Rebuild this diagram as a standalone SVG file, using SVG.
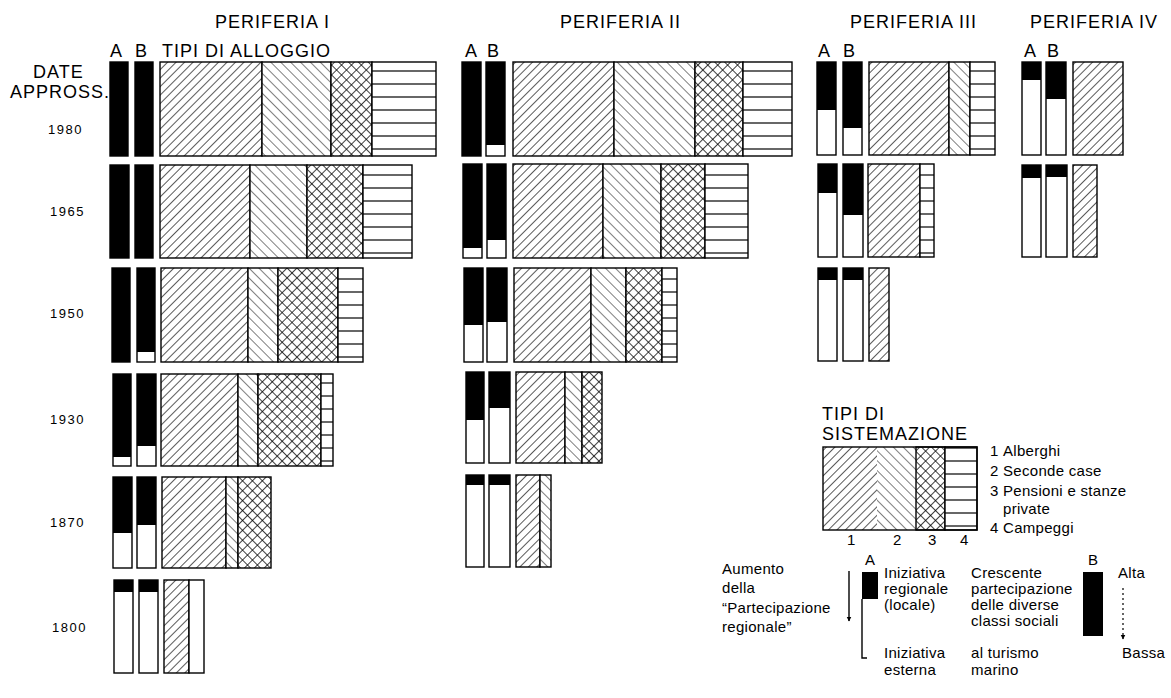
<svg xmlns="http://www.w3.org/2000/svg" width="1171" height="698" viewBox="0 0 1171 698">
<style>
.t{font-family:"Liberation Sans",Arial,sans-serif;fill:#000}
.h{font-size:18px;letter-spacing:1px}
.y{font-size:13px;letter-spacing:1.5px}
.s{font-size:15px;letter-spacing:0.3px}
.bar{fill:#fff;stroke:#000;stroke-width:1.4}
.ink{fill:#000}
.seg{stroke:#000;stroke-width:1.4}
.f1{fill:url(#fwd)}
.f2{fill:url(#bwd)}
.f3{fill:url(#cross)}
.f4{fill:url(#hor)}
.f0{fill:#fff}
</style>
<defs>
<pattern id="fwd" patternUnits="userSpaceOnUse" width="6" height="6" patternTransform="rotate(45)">
<rect width="6" height="6" fill="#fff"/><line x1="0" y1="0" x2="0" y2="6" stroke="#000" stroke-width="1.3"/>
</pattern>
<pattern id="bwd" patternUnits="userSpaceOnUse" width="7" height="7" patternTransform="rotate(-45)">
<rect width="7" height="7" fill="#fff"/><line x1="0" y1="0" x2="0" y2="7" stroke="#000" stroke-width="1"/>
</pattern>
<pattern id="cross" patternUnits="userSpaceOnUse" width="7" height="7" patternTransform="rotate(45)">
<rect width="7" height="7" fill="#fff"/><line x1="0" y1="0" x2="0" y2="7" stroke="#000" stroke-width="1.5"/><line x1="0" y1="0" x2="7" y2="0" stroke="#000" stroke-width="1.5"/>
</pattern>
<pattern id="hor" patternUnits="userSpaceOnUse" width="10" height="13">
<rect width="10" height="13" fill="#fff"/><line x1="0" y1="6" x2="10" y2="6" stroke="#000" stroke-width="1.2"/>
</pattern>
<marker id="ah" viewBox="0 0 10 10" refX="9" refY="5" markerWidth="5" markerHeight="6" orient="auto" markerUnits="userSpaceOnUse">
<path d="M0,0 L10,5 L0,10 Z" fill="#000"/>
</marker>
</defs>
<rect width="1171" height="698" fill="#fff"/>

<g id="headers" class="t h">
<text x="215" y="28">PERIFERIA I</text>
<text x="560" y="28">PERIFERIA II</text>
<text x="850" y="28">PERIFERIA III</text>
<text x="1030" y="28">PERIFERIA IV</text>
<text x="110" y="57">A</text><text x="135" y="57">B</text>
<text x="162" y="57">TIPI DI ALLOGGIO</text>
<text x="465" y="57">A</text><text x="487" y="57">B</text>
<text x="818" y="57">A</text><text x="843" y="57">B</text>
<text x="1024" y="57">A</text><text x="1047" y="57">B</text>
<text x="33" y="78">DATE</text>
<text x="10" y="98">APPROSS.</text>
</g>
<g id="years" class="t y">
<text x="48" y="134">1980</text>
<text x="50" y="216">1965</text>
<text x="50" y="318">1950</text>
<text x="50" y="424">1930</text>
<text x="50" y="527">1870</text>
<text x="52" y="632">1800</text>
</g>

<!-- PERIFERIA I -->
<g id="p1-1980">
<rect class="bar" x="110" y="62" width="18" height="94"/><rect class="ink" x="110" y="62" width="18" height="94"/>
<rect class="bar" x="135" y="62" width="18" height="94"/><rect class="ink" x="135" y="62" width="18" height="94"/>
<rect class="seg f1" x="160" y="62" width="102" height="94"/>
<rect class="seg f2" x="262" y="62" width="69" height="94"/>
<rect class="seg f3" x="331" y="62" width="41" height="94"/>
<rect class="seg f4" x="372" y="62" width="64" height="94"/>
</g>
<g id="p1-1965">
<rect class="bar" x="110" y="165" width="19" height="93"/><rect class="ink" x="110" y="165" width="19" height="93"/>
<rect class="bar" x="135" y="165" width="18" height="93"/><rect class="ink" x="135" y="165" width="18" height="93"/>
<rect class="seg f1" x="160" y="165" width="90" height="93"/>
<rect class="seg f2" x="250" y="165" width="57" height="93"/>
<rect class="seg f3" x="307" y="165" width="56" height="93"/>
<rect class="seg f4" x="363" y="165" width="49" height="93"/>
</g>
<g id="p1-1950">
<rect class="bar" x="112" y="268" width="18" height="94"/><rect class="ink" x="112" y="268" width="18" height="94"/>
<rect class="bar" x="137" y="268" width="18" height="94"/><rect class="ink" x="137" y="268" width="18" height="84"/>
<rect class="seg f1" x="161" y="268" width="87" height="94"/>
<rect class="seg f2" x="248" y="268" width="30" height="94"/>
<rect class="seg f3" x="278" y="268" width="60" height="94"/>
<rect class="seg f4" x="338" y="268" width="25" height="94"/>
</g>
<g id="p1-1930">
<rect class="bar" x="113" y="374" width="18" height="92"/><rect class="ink" x="113" y="374" width="18" height="83"/>
<rect class="bar" x="137" y="374" width="19" height="92"/><rect class="ink" x="137" y="374" width="19" height="72"/>
<rect class="seg f1" x="161" y="374" width="77" height="92"/>
<rect class="seg f2" x="238" y="374" width="20" height="92"/>
<rect class="seg f3" x="258" y="374" width="63" height="92"/>
<rect class="seg f4" x="321" y="374" width="12" height="92"/>
</g>
<g id="p1-1870">
<rect class="bar" x="113" y="477" width="19" height="91"/><rect class="ink" x="113" y="477" width="19" height="56"/>
<rect class="bar" x="137" y="477" width="19" height="91"/><rect class="ink" x="137" y="477" width="19" height="48"/>
<rect class="seg f1" x="162" y="477" width="64" height="91"/>
<rect class="seg f2" x="226" y="477" width="12" height="91"/>
<rect class="seg f3" x="238" y="477" width="33" height="91"/>
</g>
<g id="p1-1800">
<rect class="bar" x="114" y="580" width="19" height="93"/><rect class="ink" x="114" y="580" width="19" height="12"/>
<rect class="bar" x="139" y="580" width="19" height="93"/><rect class="ink" x="139" y="580" width="19" height="12"/>
<rect class="seg f1" x="164" y="580" width="25" height="93"/>
<rect class="seg f0" x="189" y="580" width="15" height="93"/>
</g>

<!-- PERIFERIA II -->
<g id="p2-1980">
<rect class="bar" x="462" y="62" width="19" height="94"/><rect class="ink" x="462" y="62" width="19" height="94"/>
<rect class="bar" x="486" y="62" width="19" height="94"/><rect class="ink" x="486" y="62" width="19" height="83"/>
<rect class="seg f1" x="513" y="62" width="101" height="94"/>
<rect class="seg f2" x="614" y="62" width="81" height="94"/>
<rect class="seg f3" x="695" y="62" width="48" height="94"/>
<rect class="seg f4" x="743" y="62" width="49" height="94"/>
</g>
<g id="p2-1965">
<rect class="bar" x="463" y="164" width="19" height="94"/><rect class="ink" x="463" y="164" width="19" height="84"/>
<rect class="bar" x="487" y="164" width="19" height="94"/><rect class="ink" x="487" y="164" width="19" height="76"/>
<rect class="seg f1" x="513" y="164" width="90" height="94"/>
<rect class="seg f2" x="603" y="164" width="58" height="94"/>
<rect class="seg f3" x="661" y="164" width="44" height="94"/>
<rect class="seg f4" x="705" y="164" width="43" height="94"/>
</g>
<g id="p2-1950">
<rect class="bar" x="464" y="268" width="19" height="94"/><rect class="ink" x="464" y="268" width="19" height="57"/>
<rect class="bar" x="487" y="268" width="20" height="94"/><rect class="ink" x="487" y="268" width="20" height="54"/>
<rect class="seg f1" x="514" y="268" width="77" height="94"/>
<rect class="seg f2" x="591" y="268" width="35" height="94"/>
<rect class="seg f3" x="626" y="268" width="36" height="94"/>
<rect class="seg f4" x="662" y="268" width="15" height="94"/>
</g>
<g id="p2-1930">
<rect class="bar" x="466" y="372" width="18" height="91"/><rect class="ink" x="466" y="372" width="18" height="48"/>
<rect class="bar" x="489" y="372" width="21" height="91"/><rect class="ink" x="489" y="372" width="21" height="36"/>
<rect class="seg f1" x="516" y="372" width="49" height="91"/>
<rect class="seg f2" x="565" y="372" width="17" height="91"/>
<rect class="seg f3" x="582" y="372" width="20" height="91"/>
</g>
<g id="p2-1870">
<rect class="bar" x="466" y="475" width="18" height="92"/><rect class="ink" x="466" y="475" width="18" height="10"/>
<rect class="bar" x="489" y="475" width="21" height="92"/><rect class="ink" x="489" y="475" width="21" height="10"/>
<rect class="seg f1" x="516" y="475" width="24" height="92"/>
<rect class="seg f2" x="540" y="475" width="11" height="92"/>
</g>

<!-- PERIFERIA III -->
<g id="p3-1980">
<rect class="bar" x="817" y="62" width="19" height="93"/><rect class="ink" x="817" y="62" width="19" height="48"/>
<rect class="bar" x="843" y="62" width="19" height="93"/><rect class="ink" x="843" y="62" width="19" height="66"/>
<rect class="seg f1" x="869" y="62" width="80" height="93"/>
<rect class="seg f2" x="949" y="62" width="21" height="93"/>
<rect class="seg f4" x="970" y="62" width="25" height="93"/>
</g>
<g id="p3-1965">
<rect class="bar" x="818" y="164" width="19" height="93"/><rect class="ink" x="818" y="164" width="19" height="29"/>
<rect class="bar" x="843" y="164" width="20" height="93"/><rect class="ink" x="843" y="164" width="20" height="51"/>
<rect class="seg f1" x="868" y="164" width="52" height="93"/>
<rect class="seg f4" x="920" y="164" width="14" height="93"/>
</g>
<g id="p3-1950">
<rect class="bar" x="818" y="268" width="19" height="93"/><rect class="ink" x="818" y="268" width="19" height="12"/>
<rect class="bar" x="843" y="268" width="20" height="93"/><rect class="ink" x="843" y="268" width="20" height="12"/>
<rect class="seg f1" x="869" y="268" width="20" height="93"/>
</g>

<!-- PERIFERIA IV -->
<g id="p4-1980">
<rect class="bar" x="1022" y="62" width="19" height="93"/><rect class="ink" x="1022" y="62" width="19" height="18"/>
<rect class="bar" x="1046" y="62" width="20" height="93"/><rect class="ink" x="1046" y="62" width="20" height="37"/>
<rect class="seg f1" x="1073" y="62" width="50" height="93"/>
</g>
<g id="p4-1965">
<rect class="bar" x="1022" y="165" width="19" height="92"/><rect class="ink" x="1022" y="165" width="19" height="13"/>
<rect class="bar" x="1046" y="165" width="21" height="92"/><rect class="ink" x="1046" y="165" width="21" height="12"/>
<rect class="seg f1" x="1073" y="165" width="24" height="92"/>
</g>

<!-- LEGEND: TIPI DI SISTEMAZIONE -->
<g id="legend-tipi">
<text class="t h" x="822" y="420">TIPI DI</text>
<text class="t h" x="822" y="440">SISTEMAZIONE</text>
<rect x="823" y="447" width="54" height="83" class="f1"/>
<rect x="877" y="447" width="39" height="83" class="f2"/>
<rect class="seg f3" x="916" y="447" width="29" height="83"/>
<rect class="seg f4" x="945" y="447" width="32" height="83"/>
<rect x="823" y="447" width="154" height="83" fill="none" stroke="#000" stroke-width="1.4"/>
<g class="t s">
<text x="847" y="545">1</text><text x="893" y="545">2</text><text x="928" y="545">3</text><text x="960" y="545">4</text>
<text x="990" y="456">1</text><text x="1003" y="456">Alberghi</text>
<text x="990" y="476">2</text><text x="1003" y="476">Seconde case</text>
<text x="990" y="496">3</text><text x="1003" y="496">Pensioni e stanze</text>
<text x="1003" y="514">private</text>
<text x="990" y="533">4</text><text x="1003" y="533">Campeggi</text>
</g>
</g>

<!-- LEGEND: A / B -->
<g id="legend-a">
<text class="t s" x="722" y="574">Aumento</text>
<text class="t s" x="722" y="593">della</text>
<text class="t s" x="722" y="613">“Partecipazione</text>
<text class="t s" x="722" y="632">regionale”</text>
<text class="t s" x="865" y="565">A</text>
<rect class="ink" x="862" y="572" width="16" height="27"/>
<path d="M862,599 V658 H867" fill="none" stroke="#000" stroke-width="1.4"/>
<text class="t s" x="884" y="578">Iniziativa</text>
<text class="t s" x="884" y="594">regionale</text>
<text class="t s" x="884" y="610">(locale)</text>
<text class="t s" x="884" y="658">Iniziativa</text>
<text class="t s" x="884" y="675">esterna</text>
</g>
<g id="legend-b">
<text class="t s" x="971" y="578">Crescente</text>
<text class="t s" x="971" y="594">partecipazione</text>
<text class="t s" x="971" y="610">delle diverse</text>
<text class="t s" x="971" y="626">classi sociali</text>
<text class="t s" x="971" y="658">al turismo</text>
<text class="t s" x="971" y="675">marino</text>
<text class="t s" x="1088" y="565">B</text>
<rect class="ink" x="1083" y="572" width="20" height="64"/>
<text class="t s" x="1118" y="578">Alta</text>
<text class="t s" x="1122" y="658">Bassa</text>
</g>

<g id="connectors">
<line x1="849" y1="571" x2="849" y2="621" stroke="#000" stroke-width="1.4" marker-end="url(#ah)"/>
<line x1="1123" y1="588" x2="1123" y2="639" stroke="#000" stroke-width="1.2" stroke-dasharray="2,3" marker-end="url(#ah)"/>
</g>
</svg>
